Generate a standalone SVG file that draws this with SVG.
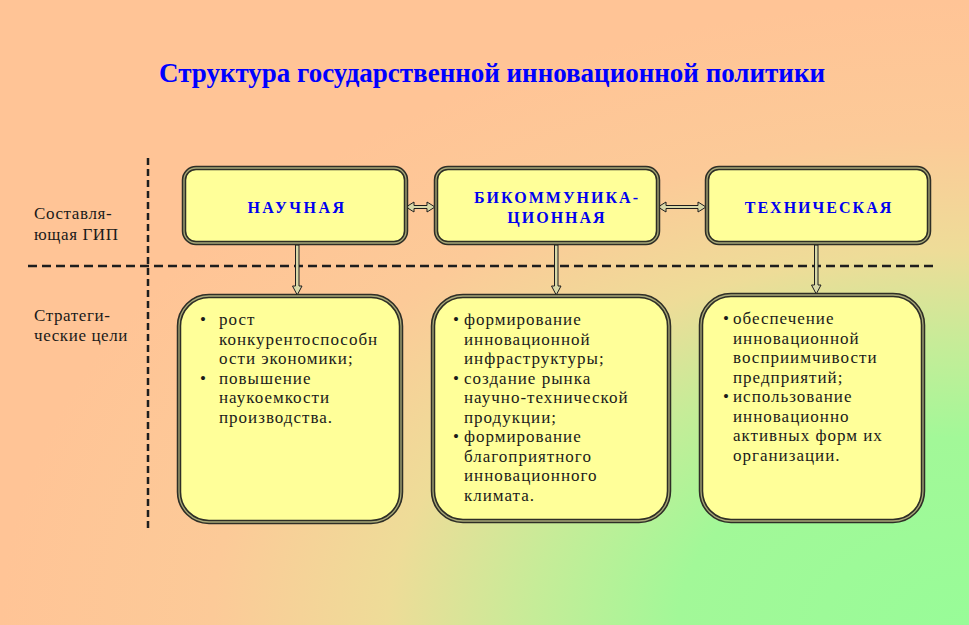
<svg xmlns="http://www.w3.org/2000/svg" width="969" height="625" viewBox="0 0 969 625">
<defs>
<radialGradient id="bg" cx="1" cy="1" r="1" gradientUnits="objectBoundingBox">
<stop offset="0" stop-color="#98FC98"/>
<stop offset="0.3" stop-color="#A2F898"/>
<stop offset="0.45" stop-color="#C6EC98"/>
<stop offset="0.6" stop-color="#EEDC98"/>
<stop offset="0.78" stop-color="#FCCA98"/>
<stop offset="1" stop-color="#FFC496"/>
</radialGradient>
<style>
.box{fill:#FFFF99;stroke:#2E2E26;stroke-width:4.5}
.inner{fill:none;stroke:#A8A878;stroke-width:1.3}
.head{font-family:"Liberation Serif","Times New Roman",serif;font-weight:bold;font-size:16px;fill:#0000F0;text-anchor:middle;letter-spacing:2px}
.txt{font-family:"Liberation Serif","Times New Roman",serif;font-size:17px;fill:#1A1A1A;letter-spacing:1px}
.lbl{font-family:"Liberation Serif","Times New Roman",serif;font-size:17px;fill:#1A1A1A;letter-spacing:0.6px}
.dash{stroke:#1E1E1E;stroke-width:2.5;fill:none}
.arr{fill:#D8D8A8;stroke:#1E1E1E;stroke-width:1}
</style>
</defs>
<rect x="0" y="0" width="969" height="625" fill="url(#bg)"/>
<text x="492" y="82" font-family="'Liberation Serif','Times New Roman',serif" font-weight="bold" font-size="27" fill="#0000FF" text-anchor="middle">Структура государственной инновационной политики</text>

<g id="dividers">
<line class="dash" x1="148" y1="158" x2="148" y2="528" stroke-dasharray="7 4"/>
<line class="dash" x1="28" y1="266" x2="933" y2="266" stroke-dasharray="9 5"/>
</g>

<g id="row-labels">
<text class="lbl" x="34" y="219">Составля-</text>
<text class="lbl" x="34" y="240">ющая ГИП</text>
<text class="lbl" x="34" y="321">Стратеги-</text>
<text class="lbl" x="34" y="341">ческие цели</text>
</g>

<g id="connectors">
<polygon class="arr" points="406,207 414,202 414,205.5 427,205.5 427,202 435,207 427,212 427,208.5 414,208.5 414,212"/>
<polygon class="arr" points="658,207 666,202 666,205.5 698,205.5 698,202 706,207 698,212 698,208.5 666,208.5 666,212"/>
<polygon class="arr" points="295.5,245 299,245 299,286 302,286 297.25,295 292.5,286 295.5,286"/>
<polygon class="arr" points="554.5,245 558,245 558,286 561,286 556.25,295 551.5,286 554.5,286"/>
<polygon class="arr" points="814.5,245 818,245 818,285 821,285 816.25,294 811.5,285 814.5,285"/>
</g>

<g id="node-nauchnaya">
<rect class="box" x="184" y="168" width="222" height="75" rx="12"/>
<rect class="inner" x="184" y="168" width="222" height="75" rx="12"/>
<text class="head" x="297" y="213" style="letter-spacing:2.5px">НАУЧНАЯ</text>
</g>
<g id="node-bikommunikacionnaya">
<rect class="box" x="436" y="168" width="222" height="75" rx="12"/>
<rect class="inner" x="436" y="168" width="222" height="75" rx="12"/>
<text class="head" x="557" y="203">БИКОММУНИКА-</text>
<text class="head" x="557" y="223">ЦИОННАЯ</text>
</g>
<g id="node-tekhnicheskaya">
<rect class="box" x="707" y="168" width="222" height="75" rx="12"/>
<rect class="inner" x="707" y="168" width="222" height="75" rx="12"/>
<text class="head" x="819" y="213">ТЕХНИЧЕСКАЯ</text>
</g>

<g id="goals-nauchnaya">
<rect class="box" x="179" y="296" width="222" height="226" rx="30"/>
<rect class="inner" x="179" y="296" width="222" height="226" rx="30"/>
<text class="txt" x="200" y="325">•</text>
<text class="txt" x="219" y="325">рост</text>
<text class="txt" x="219" y="344.5">конкурентоспособн</text>
<text class="txt" x="219" y="364">ости экономики;</text>
<text class="txt" x="200" y="383.5">•</text>
<text class="txt" x="219" y="383.5">повышение</text>
<text class="txt" x="219" y="403">наукоемкости</text>
<text class="txt" x="219" y="422.5">производства.</text>
</g>
<g id="goals-bikommunikacionnaya">
<rect class="box" x="433" y="296" width="236" height="225" rx="30"/>
<rect class="inner" x="433" y="296" width="236" height="225" rx="30"/>
<text class="txt" x="453" y="325">•</text>
<text class="txt" x="464" y="325">формирование</text>
<text class="txt" x="464" y="344.5">инновационной</text>
<text class="txt" x="464" y="364">инфраструктуры;</text>
<text class="txt" x="453" y="383.5">•</text>
<text class="txt" x="464" y="383.5">создание рынка</text>
<text class="txt" x="464" y="403">научно-технической</text>
<text class="txt" x="464" y="422.5">продукции;</text>
<text class="txt" x="453" y="442">•</text>
<text class="txt" x="464" y="442">формирование</text>
<text class="txt" x="464" y="461.5">благоприятного</text>
<text class="txt" x="464" y="481">инновационного</text>
<text class="txt" x="464" y="500.5">климата.</text>
</g>
<g id="goals-tekhnicheskaya">
<rect class="box" x="701" y="295" width="222" height="226" rx="30"/>
<rect class="inner" x="701" y="295" width="222" height="226" rx="30"/>
<text class="txt" x="723" y="324">•</text>
<text class="txt" x="733" y="324">обеспечение</text>
<text class="txt" x="733" y="343.5">инновационной</text>
<text class="txt" x="733" y="363">восприимчивости</text>
<text class="txt" x="733" y="382.5">предприятий;</text>
<text class="txt" x="723" y="402">•</text>
<text class="txt" x="733" y="402">использование</text>
<text class="txt" x="733" y="421.5">инновационно</text>
<text class="txt" x="733" y="441">активных форм их</text>
<text class="txt" x="733" y="460.5">организации.</text>
</g>
</svg>
